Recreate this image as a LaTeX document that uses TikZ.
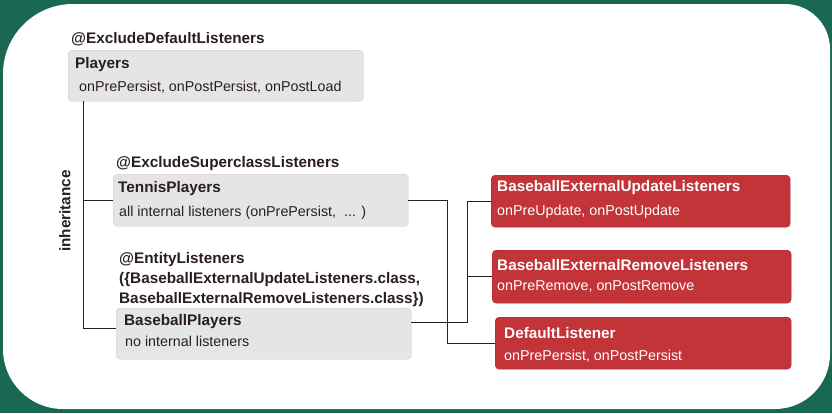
\documentclass[tikz,border=0pt]{standalone}
\usepackage{fontspec}
\setmainfont{Liberation Sans}
\usetikzlibrary{positioning}
\definecolor{frame}{RGB}{24,104,84}
\definecolor{boxgray}{RGB}{229,229,231}
\definecolor{boxline}{RGB}{200,200,204}
\definecolor{listred}{RGB}{194,52,56}
\definecolor{listline}{RGB}{168,40,46}
\definecolor{ink}{RGB}{42,30,30}

\begin{document}
\begin{tikzpicture}
		% We work in pixels, y pointing down
		[x=1pt, y=-1pt,
		graybox/.style={fill=boxgray, draw=boxline, rounded corners=4pt, anchor=north west, inner sep=0pt},
		redbox/.style={fill=listred, draw=listline, rounded corners=4pt, anchor=north west, inner sep=0pt},
		head/.style={font=\fontsize{15.3}{18}\selectfont\bfseries, text=ink, anchor=base west, inner sep=0pt},
		body/.style={font=\fontsize{14.3}{17}\selectfont, text=ink, anchor=base west, inner sep=0pt},
		link/.style={draw=ink, line width=0.9pt}]
	
		\useasboundingbox (0,0) rectangle (832,413);
		
		% First the green frame and the white sheet
		\fill[frame] (0,0) rectangle (832,413);
		\fill[white] (3,200) [rounded corners=70pt] -- (3,4) [rounded corners=45pt] -- (830,4) [rounded corners=55pt] -- (830,409) [rounded corners=60pt] -- (3,409) [sharp corners] -- cycle;
		
		% The entity classes
		\node[graybox, minimum width=295pt, minimum height=51pt] (players) at (68,50) {};
		\node[head] (playersann) at ([shift={(3,-7)}]players.north west) {@ExcludeDefaultListeners};
		\node[head] (playerstitle) at ([shift={(7,18)}]players.north west) {Players};
		\node[body] (playersbody) at ([shift={(11,41)}]players.north west) {onPrePersist, onPostPersist, onPostLoad};
		
		\node[graybox, minimum width=295pt, minimum height=52pt] (tennis) at (113,174) {};
		\node[head] (tennisann) at ([shift={(3,-7)}]tennis.north west) {@ExcludeSuperclassListeners};
		\node[head] (tennistitle) at ([shift={(5,18)}]tennis.north west) {TennisPlayers};
		\node[body] (tennisbody) at ([shift={(6,42)}]tennis.north west) {all internal listeners (onPrePersist,~ ... )};
		
		\node[graybox, minimum width=295pt, minimum height=51pt] (baseball) at (116,308) {};
		\node[head] (baseballann) at ([shift={(3,-45)}]baseball.north west) {@EntityListeners};
		\node[head] (baseballannA) at ([shift={(3,-25)}]baseball.north west) {(\{BaseballExternalUpdateListeners.class,};
		\node[head] (baseballannB) at ([shift={(3,-5)}]baseball.north west) {BaseballExternalRemoveListeners.class\})};
		\node[head] (baseballtitle) at ([shift={(8,17)}]baseball.north west) {BaseballPlayers};
		\node[body] (baseballbody) at ([shift={(9,38)}]baseball.north west) {no internal listeners};
		
		% The listener classes
		\node[redbox, minimum width=299pt, minimum height=52pt] (update) at (491,175) {};
		\node[head, text=white] (updatetitle) at ([shift={(6,16)}]update.north west) {BaseballExternalUpdateListeners};
		\node[body, text=white] (updatebody) at ([shift={(6,40)}]update.north west) {onPreUpdate, onPostUpdate};
		
		\node[redbox, minimum width=299pt, minimum height=53pt] (remove) at (492,250) {};
		\node[head, text=white] (removetitle) at ([shift={(5,20)}]remove.north west) {BaseballExternalRemoveListeners};
		\node[body, text=white] (removebody) at ([shift={(5,40)}]remove.north west) {onPreRemove, onPostRemove};
		
		\node[redbox, minimum width=296pt, minimum height=52pt] (default) at (495,317) {};
		\node[head, text=white] (defaulttitle) at ([shift={(9,21)}]default.north west) {DefaultListener};
		\node[body, text=white] (defaultbody) at ([shift={(9,43)}]default.north west) {onPrePersist, onPostPersist};
		
		% Inheritance tree on the left
		\coordinate (trunk) at ([xshift=15pt]players.south west);
		\draw[link] (trunk) |- (tennis.west);
		\draw[link] (trunk) |- ([yshift=5pt]baseball.west);
		\node[head, rotate=90, anchor=center] (inheritance) at (65,211) {inheritance};
		
		% Links to the listeners
		\draw[link] (tennis.east) -- ++(39,0) |- (default.west);
		\draw[link] ([yshift=11pt]baseball.east) -- ++(56,0) |- (update.west);
		\draw[link] (remove.west) -- ++(-25,0);
	\end{tikzpicture}
\end{document}
